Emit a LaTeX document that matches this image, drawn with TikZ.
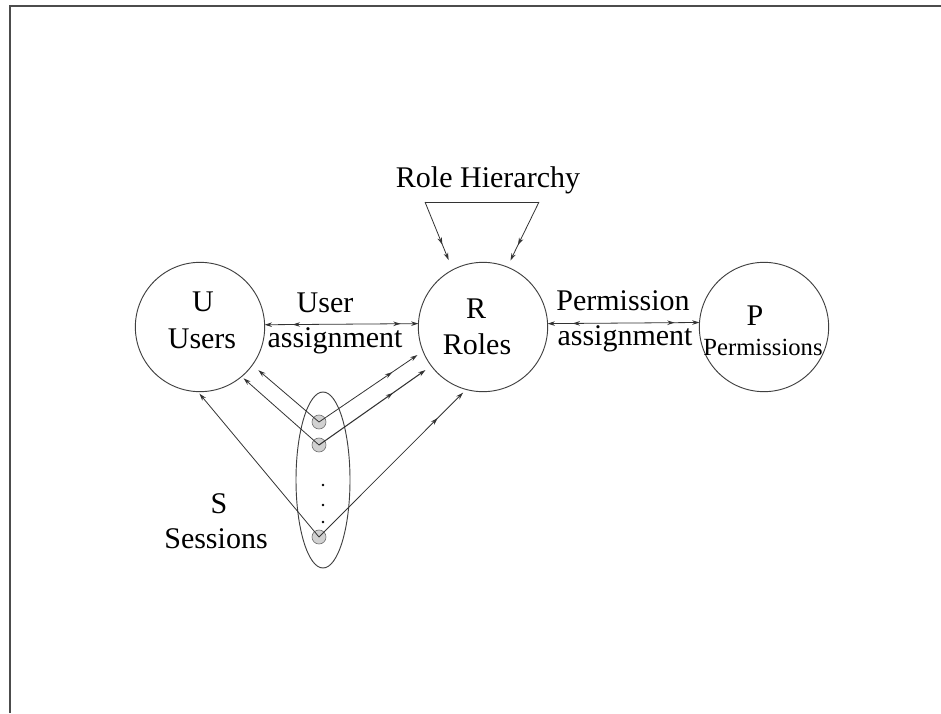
\documentclass[tikz,border=0pt]{standalone}
\usepackage{fontspec}
\setmainfont{Liberation Serif}
\usetikzlibrary{arrows.meta,shapes.geometric,decorations.markings}

\tikzset{
  >={Stealth[length=5.5pt,width=3.4pt]},
  ring/.style={circle, draw=black!75, line width=0.7pt, minimum size=97pt,
    inner sep=0pt, outer sep=0pt},
  sdot/.style={circle, fill=black!18, draw=black!55, line width=0.5pt,
    minimum size=10.5pt, inner sep=0pt, outer sep=0pt},
  link/.style={draw=black!80, line width=0.6pt},
  lbl/.style={anchor=base, inner sep=0pt, font=\fontsize{22.5}{27}\selectfont},
  small/.style={anchor=base, inner sep=0pt, font=\fontsize{18.5}{22}\selectfont},
  midtip/.style={postaction={decorate},
    decoration={markings, mark=at position #1 with {\arrow{>}}}},
  twotips/.style n args={2}{postaction={decorate},
    decoration={markings,
      mark=at position #1 with {\arrowreversed{>}},
      mark=at position #2 with {\arrow{>}}}}
}

\begin{document}
\begin{tikzpicture}[x=0.75pt,y=-0.75pt]
\useasboundingbox (0,0) rectangle (941,713);

% page frame
\draw[black!70, line width=1.1pt] (10,713) -- (10,6) -- (941,6);

% the three sets
\node[ring] (U) at (200,327) {};
\node[ring] (R) at (483,327) {};
\node[ring] (P) at (764,327) {};

\node[lbl] (uT)  at (203,311) {U};
\node[lbl] (uN)  at (202,348) {Users};
\node[lbl] (rT)  at (476,318) {R};
\node[lbl] (rN)  at (477,354) {Roles};
\node[lbl] (pT)  at (755,325) {P};
\node[small] (pN) at (763,355) {Permissions};

% assignments
\node[lbl] (ua1) at (325,312) {User};
\node[lbl] (ua2) at (335,347) {assignment};
\draw[link, <->, twotips={21pt}{102pt}] (U.2.7) -- (R.177.3);

\node[lbl] (pa1) at (623,310) {Permission};
\node[lbl] (pa2) at (625,345) {assignment};
\draw[link, <->, twotips={18.75pt}{95.25pt}] (R.3.5) -- (P.176.5);

% role hierarchy
\node[lbl] (rh) at (488,187) {Role Hierarchy};
\coordinate (hl) at (425,202);
\coordinate (hr) at (539,202);
\draw[link] (hl) -- (hr);
\draw[link, ->, shorten >=8pt, midtip=34.5pt] (hl) -- (R.118.6);
\draw[link, ->, shorten >=5.5pt, midtip=36pt] (hr) -- (R.68.5);

% sessions
\node[ellipse, draw=black!75, line width=0.7pt, minimum width=40.5pt,
  minimum height=132pt, inner sep=0pt] (S) at (323,480) {};
\node[sdot] (s1) at (319,422) {};
\node[sdot] (s2) at (319,445) {};
\node[sdot] (s3) at (319,537) {};
\fill (323,485) circle (1pt);
\fill (323,505) circle (1pt);
\fill (323,522) circle (1pt);

\node[lbl] (sT) at (219,513) {S};
\node[lbl] (sN) at (216,548) {Sessions};

% session to user links
\draw[link, ->, shorten >=6pt] (s1.center) -- (U.-36.1);
\draw[link, ->, shorten >=2pt] (s2.center) -- (U.-50.3);
\draw[link, ->, shorten >=2pt] (s3.center) -- (U.-92.4);

% session to role links
\draw[link, ->, shorten >=5.1pt, midtip=66.4pt] (s1.center) -- (R.-158.2);
\draw[link, ->, line width=0.8pt, shorten >=5.4pt, midtip=67.8pt] (s2.center) -- (R.-143.3);
\draw[link, ->, shorten >=3.4pt, midtip=126pt] (s3.center) -- (R.-105);
\end{tikzpicture}
\end{document}
